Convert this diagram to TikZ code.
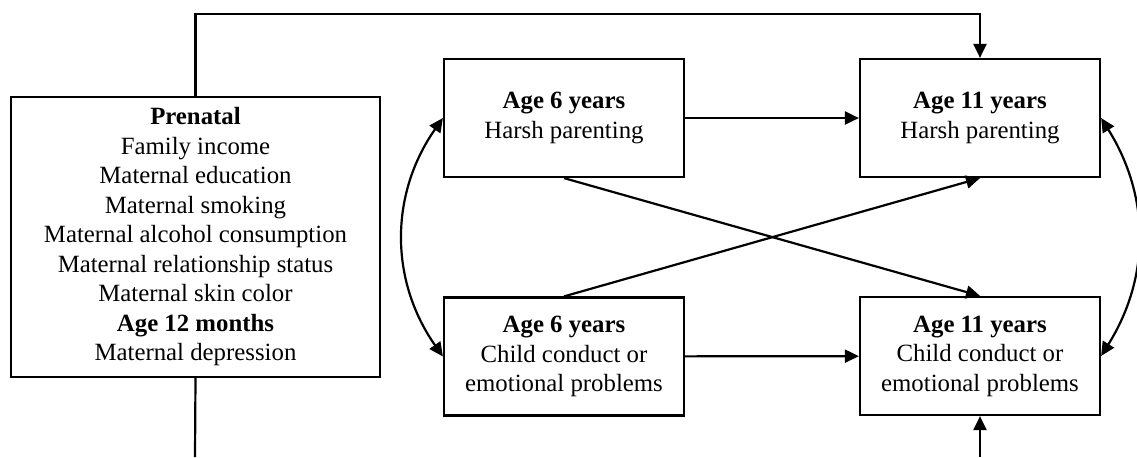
\documentclass[tikz,border=0pt]{standalone}
\usepackage{fontspec}
\setmainfont{Liberation Serif}
\usetikzlibrary{
  arrows.meta
}

\begin{document}
\begin{tikzpicture}[
    x=0.5pt, y=-0.5pt,
    line width=1.1pt,
  every node/.style = {shape=rectangle, draw, align=center,
    inner sep=0pt, font=\fontsize{12.4}{14.75}\selectfont}]
    \tikzstyle{wave}=[minimum width=120pt, minimum height=59pt]
    \tikzstyle{onearrow}=[-{Triangle[length=7pt,width=6.5pt]}]
    \tikzstyle{twoarrow}=[{Triangle[length=7pt,width=6.5pt]}-{Triangle[length=7pt,width=6.5pt]}]
  \useasboundingbox (0,0) rectangle (1137,457);
  \node[minimum width=184.5pt, minimum height=140pt] (prenatal) at (195.5,237)
    {\textbf{Prenatal}\\Family income\\Maternal education\\Maternal smoking\\
     Maternal alcohol consumption\\Maternal relationship status\\
     Maternal skin color\\\textbf{Age 12 months}\\Maternal depression};
  \node[wave] (harsh6) at (564,118) {\textbf{Age 6 years}\\Harsh parenting};
  \node[wave] (child6) at (564,356.5) {\textbf{Age 6 years}\\Child conduct or\\emotional problems};
  \node[wave] (harsh11) at (980,118) {\textbf{Age 11 years}\\Harsh parenting};
  \node[wave] (child11) at (980,356) {\textbf{Age 11 years}\\Child conduct or\\emotional problems};
  \coordinate (topline) at (195,14);
  \coordinate (bottomline) at (195,457);
  \draw[onearrow] (prenatal.north) |- (harsh11.north |- topline) -- (harsh11.north);
  \draw (prenatal.south) -- (bottomline);
  \draw[onearrow] (child11.south |- bottomline) -- (child11.south);
  \draw[onearrow] (harsh6) -- (harsh11);
  \draw[onearrow] (child6) -- (child11);
  \draw[onearrow] (harsh6.south) -- (child11.north);
  \draw[onearrow] (child6.north) -- (harsh11.south);
  \draw[twoarrow] (harsh6.west) to[bend right=35] (child6.west);
  \draw[twoarrow] (harsh11.east) to[bend left=32] (child11.east);
\end{tikzpicture}
\end{document}
